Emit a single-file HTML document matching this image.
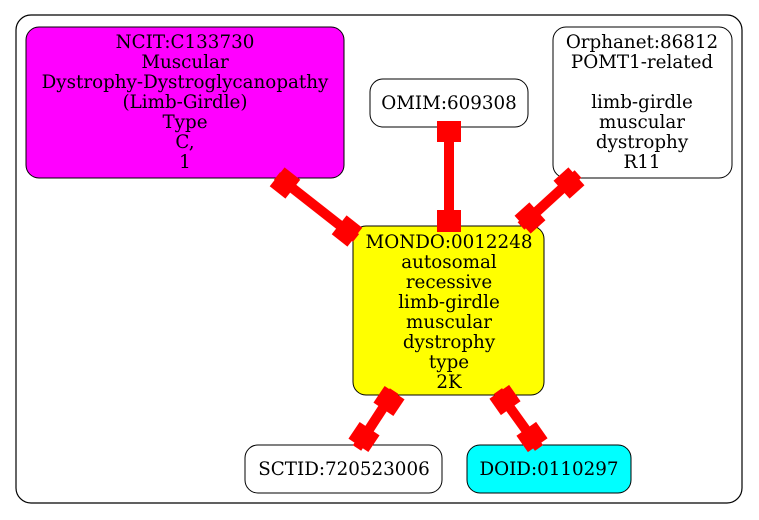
<!DOCTYPE html>
<html><head><meta charset="utf-8"><style>
html,body{margin:0;padding:0;background:#fff;width:759px;height:520px;overflow:hidden}
text{font-family:"DejaVu Serif","Liberation Serif",serif;font-size:18.3px;fill:#000}
</style></head><body>
<svg width="759" height="520" xmlns="http://www.w3.org/2000/svg">
<rect x="16" y="15" width="726" height="488" rx="15" fill="#fff" stroke="#000" stroke-width="1.2"/>
<rect x="26" y="27" width="318" height="151" rx="13" fill="#ff00ff" stroke="#000"/>
<rect x="370" y="79" width="158" height="48" rx="13" fill="#fff" stroke="#000"/>
<rect x="553" y="27" width="179" height="151" rx="13" fill="#fff" stroke="#000"/>
<rect x="353" y="226" width="191" height="169" rx="13" fill="#ffff00" stroke="#000"/>
<rect x="245" y="445" width="197" height="48" rx="13" fill="#fff" stroke="#000"/>
<rect x="467" y="445" width="164" height="48" rx="13" fill="#00ffff" stroke="#000"/>
<g text-anchor="middle">
<text x="185" y="48">NCIT:C133730</text>
<text x="185" y="68">Muscular</text>
<text x="185" y="88">Dystrophy-Dystroglycanopathy</text>
<text x="185" y="108">(Limb-Girdle)</text>
<text x="185" y="128">Type</text>
<text x="185" y="148">C,</text>
<text x="185" y="168">1</text>
<text x="449" y="109">OMIM:609308</text>
<text x="642" y="48">Orphanet:86812</text>
<text x="642" y="68">POMT1-related</text>
<text x="642" y="108">limb-girdle</text>
<text x="642" y="128">muscular</text>
<text x="642" y="148">dystrophy</text>
<text x="642" y="168">R11</text>
<text x="449" y="248">MONDO:0012248</text>
<text x="449" y="268">autosomal</text>
<text x="449" y="288">recessive</text>
<text x="449" y="308">limb-girdle</text>
<text x="449" y="328">muscular</text>
<text x="449" y="348">dystrophy</text>
<text x="449" y="368">type</text>
<text x="449" y="388">2K</text>
<text x="344" y="475">SCTID:720523006</text>
<text x="549" y="475">DOID:0110297</text>
</g>
<g fill="#f00" stroke="#f00">
<line x1="277" y1="176" x2="356" y2="238" stroke-width="10"/>
<rect x="-10" y="-12" width="20" height="24" transform="translate(285,183) rotate(38.3)" stroke="none"/>
<rect x="-10" y="-12" width="20" height="24" transform="translate(347,231) rotate(38.3)" stroke="none"/>
<line x1="449" y1="121" x2="449" y2="232" stroke-width="10"/>
<rect x="437" y="121" width="24" height="21" stroke="none"/>
<rect x="437" y="210" width="24" height="22" stroke="none"/>
<line x1="578" y1="174" x2="521" y2="226" stroke-width="10"/>
<rect x="-10" y="-12" width="20" height="24" transform="translate(569,183) rotate(138)" stroke="none"/>
<rect x="-10" y="-12" width="20" height="24" transform="translate(530,218) rotate(138)" stroke="none"/>
<line x1="394" y1="391" x2="357" y2="448" stroke-width="10"/>
<rect x="-10" y="-12" width="20" height="24" transform="translate(389,401) rotate(124)" stroke="none"/>
<rect x="-10" y="-12" width="20" height="24" transform="translate(364,437) rotate(124)" stroke="none"/>
<line x1="498" y1="391" x2="539" y2="448" stroke-width="10"/>
<rect x="-10" y="-12" width="20" height="24" transform="translate(505,400) rotate(55)" stroke="none"/>
<rect x="-10" y="-12" width="20" height="24" transform="translate(532,437) rotate(55)" stroke="none"/>
</g>
</svg>
</body></html>
